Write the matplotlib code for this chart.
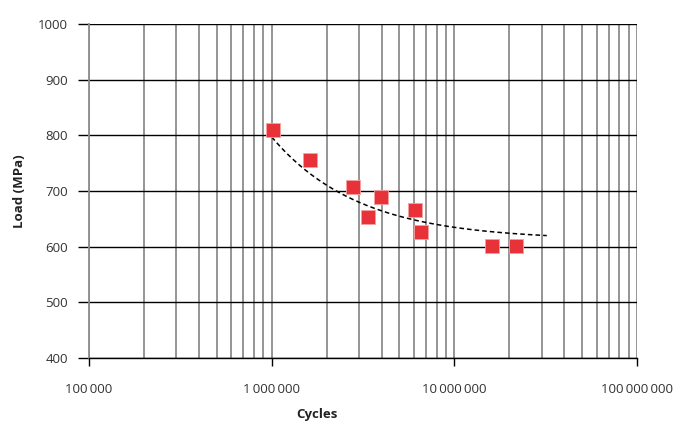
import numpy as np
import matplotlib
matplotlib.use("Agg")
import matplotlib.pyplot as plt
from matplotlib.ticker import FuncFormatter, LogLocator, NullFormatter

plt.rcParams['font.family'] = ['Open Sans', 'DejaVu Sans']

# data
cycles = [1.02e6, 1.62e6, 2.79e6, 3.37e6, 3.96e6, 6.08e6, 6.56e6, 1.61e7, 2.17e7]
load = [810, 756, 707, 653, 689, 666, 627, 601, 601]
y_ticks = [400, 500, 600, 700, 800, 900, 1000]
x_ticks = [1e5, 1e6, 1e7, 1e8]

# trend curve: y = asym + amp * exp(-rate * (log10(N) - 6))
trend_start = 1.0e6
trend_end = 3.2e7
trend_asym = 612
trend_amp = 185
trend_rate = 2.1

x = np.array(cycles)
y = np.array(load)

xt = np.logspace(np.log10(trend_start), np.log10(trend_end), 200)
yt = trend_asym + trend_amp * np.exp(-trend_rate * (np.log10(xt) - 6))

fig = plt.figure(figsize=(6.8, 4.24), dpi=100)
ax = fig.add_axes([0.131, 0.156, 0.806, 0.787])

ax.set_xscale('log')
ax.set_xlim(1e5, 1e8)
ax.set_ylim(400, 1000)

ax.plot(xt, yt, color='black', linestyle=(0, (3, 2)), linewidth=1.1, zorder=3)
ax.plot(x, y, linestyle='none', marker='s', markersize=10,
        markerfacecolor='#e8323a', markeredgecolor='#f5a0a0',
        markeredgewidth=0.6, zorder=4)

ax.set_xticks(x_ticks)
ax.xaxis.set_minor_locator(LogLocator(base=10, subs=np.arange(2, 10)))
ax.xaxis.set_minor_formatter(NullFormatter())
ax.xaxis.set_major_formatter(FuncFormatter(lambda v, p: f"{int(round(v)):,}".replace(',', '\u2009')))
ax.set_yticks(y_ticks)

ax.grid(True, which='both', axis='x', color='#8c8c8c', linewidth=1.3)
ax.grid(True, which='major', axis='y', color='black', linewidth=1.0)
ax.set_axisbelow(True)

for s in ['top', 'right']:
    ax.spines[s].set_visible(False)
ax.spines['left'].set_color('#8c8c8c')
ax.spines['left'].set_linewidth(1.3)
ax.spines['bottom'].set_color('black')
ax.spines['bottom'].set_linewidth(1.0)

ax.tick_params(axis='x', which='major', length=6, width=1, pad=12,
               labelsize=9.5, colors='black', labelcolor='#333333')
ax.tick_params(axis='x', which='minor', length=0)
ax.tick_params(axis='y', length=8, width=1, pad=7, labelsize=9.5,
               colors='black', labelcolor='#333333')

fig.text(0.028, 0.5 * (0.156 + 0.943), 'Load (MPa)', rotation=90, ha='center',
         va='center', fontsize=9.5, fontweight='bold', color='#222222')
fig.text(0.466, 0.022, 'Cycles', ha='center', va='center', fontsize=9.5,
         fontweight='bold', color='#222222')

fig.savefig('out.png', dpi=100)
